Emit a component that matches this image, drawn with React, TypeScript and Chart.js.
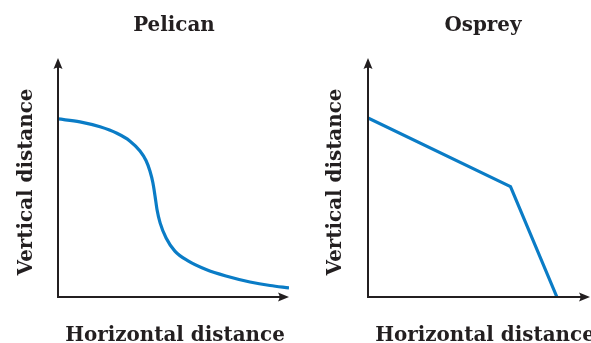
import React, { useEffect, useRef } from "react";
import { Chart, registerables } from "chart.js";

Chart.register(...registerables);

const pelicanX = [0, 0.95, 1.82, 2.55, 3.12, 3.55, 3.81, 3.98, 4.11, 4.2, 4.29, 4.42, 4.68, 5.06, 5.63, 6.41, 7.27, 8.31, 9.18, 10];
const pelicanY = [7.45, 7.33, 7.12, 6.85, 6.52, 6.11, 5.71, 5.27, 4.77, 4.23, 3.64, 3.1, 2.47, 1.92, 1.51, 1.15, 0.88, 0.63, 0.48, 0.38];
const ospreyX = [0, 6.42, 8.51];
const ospreyY = [7.49, 4.62, 0];

const BLUE = "#0a7cc6";
const INK = "#231f20";
const FONT = "'DejaVu Serif', serif";

type PanelOpts = {
  title: string;
  titleX: number;
  xLabelX: number;
  yLabelX: number;
};

function arrowHead(ctx: CanvasRenderingContext2D, x: number, y: number, dir: "up" | "right") {
  ctx.save();
  ctx.translate(x, y);
  if (dir === "up") ctx.rotate(-Math.PI / 2);
  ctx.beginPath();
  ctx.moveTo(0, 0);
  ctx.lineTo(-11, -4.5);
  ctx.quadraticCurveTo(-8, 0, -11, 4.5);
  ctx.closePath();
  ctx.fillStyle = INK;
  ctx.fill();
  ctx.restore();
}

function label(ctx: CanvasRenderingContext2D, text: string, x: number, y: number, rot: number) {
  ctx.save();
  ctx.translate(x, y);
  if (rot) ctx.rotate(rot);
  ctx.scale(0.97, 1);
  ctx.fillText(text, 0, 0);
  ctx.restore();
}

const decorPlugin = {
  id: "decor",
  afterDraw(chart: any, _args: any, opts: PanelOpts) {
    const ctx = chart.ctx as CanvasRenderingContext2D;
    const a = chart.chartArea;
    ctx.save();
    ctx.strokeStyle = INK;
    ctx.lineWidth = 2;
    ctx.beginPath();
    ctx.moveTo(a.left, a.top + 6);
    ctx.lineTo(a.left, a.bottom);
    ctx.lineTo(a.right - 6, a.bottom);
    ctx.stroke();
    arrowHead(ctx, a.left, a.top, "up");
    arrowHead(ctx, a.right, a.bottom, "right");

    ctx.fillStyle = INK;
    ctx.textAlign = "center";
    ctx.textBaseline = "alphabetic";
    ctx.font = `bold 20.5px ${FONT}`;
    label(ctx, opts.title, opts.titleX, 31, 0);
    label(ctx, "Horizontal distance", opts.xLabelX, 341, 0);
    label(ctx, "Vertical distance", opts.yLabelX, 182, -Math.PI / 2);
    ctx.restore();
  },
};

function Panel(props: {
  xs: number[];
  ys: number[];
  width: number;
  left: number;
  pad: { left: number; right: number; top: number; bottom: number };
  smooth: boolean;
  decor: PanelOpts;
}) {
  const ref = useRef<HTMLCanvasElement>(null);
  useEffect(() => {
    const data = props.xs.map((x, i) => ({ x, y: props.ys[i] }));
    const chart = new Chart(ref.current!, {
      type: "line",
      data: {
        datasets: [
          {
            data,
            borderColor: BLUE,
            borderWidth: 3.2,
            pointRadius: 0,
            fill: false,
            cubicInterpolationMode: props.smooth ? "monotone" : "default",
            tension: 0,
            borderCapStyle: "butt",
            borderJoinStyle: props.smooth ? "round" : "miter",
          },
        ],
      },
      options: {
        animation: false,
        responsive: false,
        devicePixelRatio: 1,
        layout: { padding: props.pad },
        plugins: {
          legend: { display: false },
          tooltip: { enabled: false },
          title: { display: false },
          decor: props.decor,
        } as any,
        scales: {
          x: { type: "linear", min: 0, max: 10, display: false },
          y: { type: "linear", min: 0, max: 10, display: false },
        },
      },
      plugins: [decorPlugin],
    });
    return () => chart.destroy();
  }, []);
  return (
    <canvas
      ref={ref}
      width={props.width}
      height={343}
      style={{ position: "absolute", left: props.left, top: 0, width: props.width, height: 343 }}
    />
  );
}

export default function App() {
  return (
    <div style={{ position: "fixed", left: 0, top: 0, width: 591, height: 343, background: "#fff", overflow: "hidden" }}>
      <Panel
        xs={pelicanX}
        ys={pelicanY}
        width={296}
        left={0}
        pad={{ left: 58, right: 7, top: 58, bottom: 46 }}
        smooth={true}
        decor={{ title: "Pelican", titleX: 174, xLabelX: 175, yLabelX: 32 }}
      />
      <Panel
        xs={ospreyX}
        ys={ospreyY}
        width={295}
        left={296}
        pad={{ left: 72, right: 1, top: 58, bottom: 46 }}
        smooth={false}
        decor={{ title: "Osprey", titleX: 187, xLabelX: 189, yLabelX: 45 }}
      />
    </div>
  );
}
